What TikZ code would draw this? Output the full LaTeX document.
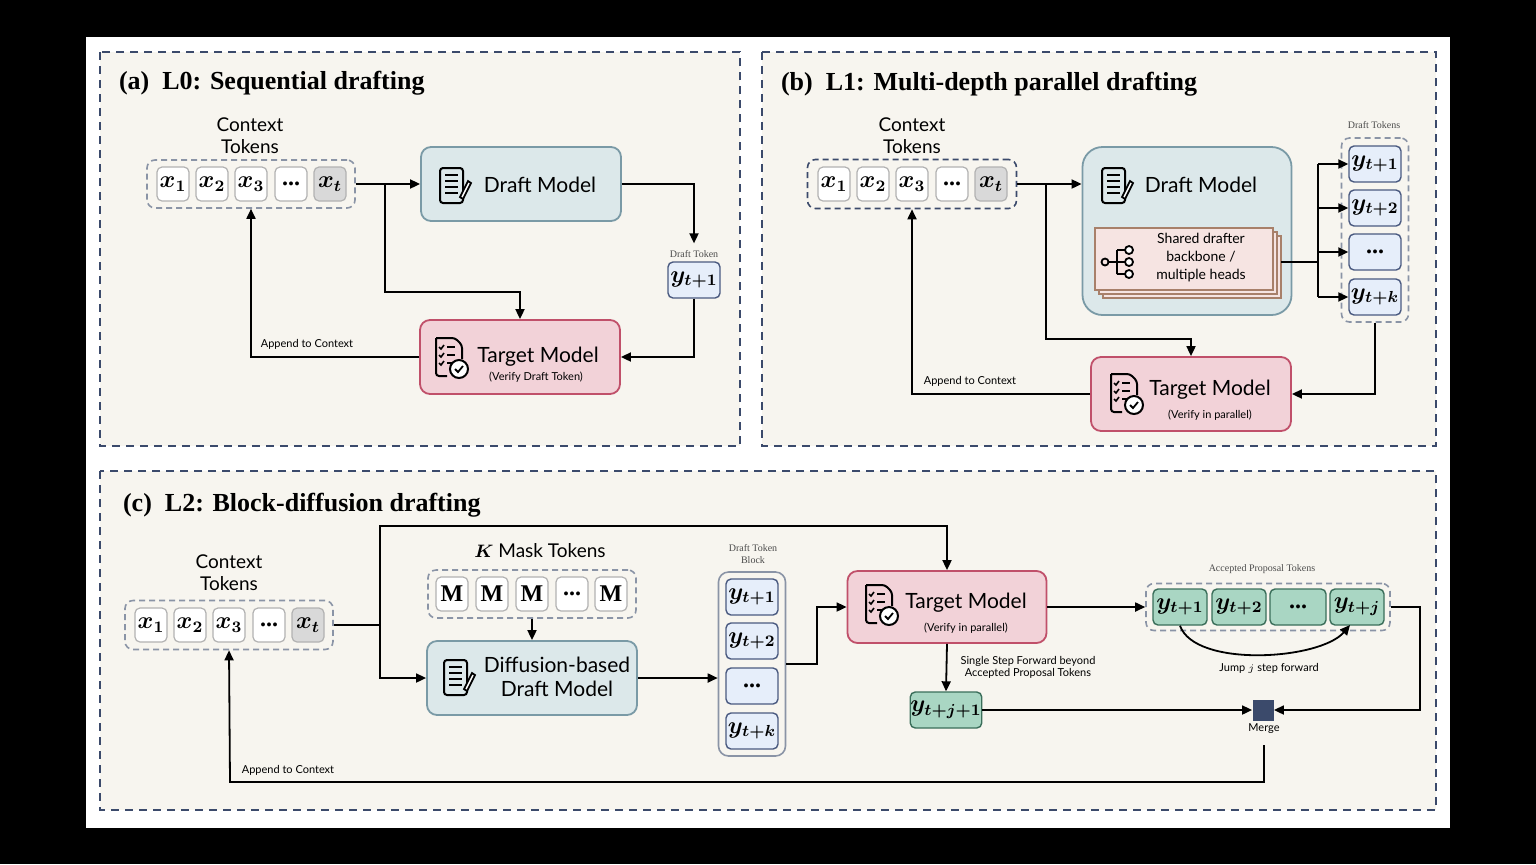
\documentclass[tikz,border=0pt]{standalone}
\usepackage{amsmath,bm}
\usepackage{fontspec}
\setmainfont{Liberation Serif}
\newfontfamily\hand{Lato}
\usetikzlibrary{arrows.meta,shapes.geometric}
\definecolor{bgp}{HTML}{F7F5EF}
\definecolor{dash}{HTML}{3B4A6B}
\definecolor{dfill}{HTML}{DCE8EA}
\definecolor{dline}{HTML}{7A9AA6}
\definecolor{tfill}{HTML}{F2D2D8}
\definecolor{tline}{HTML}{C0506A}
\definecolor{yfill}{HTML}{E6EEFA}
\definecolor{yline}{HTML}{4A5A80}
\definecolor{gfill}{HTML}{A9D6C3}
\definecolor{gline}{HTML}{3A6E5A}
\definecolor{sfill}{HTML}{F6E4E2}
\definecolor{sline}{HTML}{A8806A}
\definecolor{grp}{HTML}{8A94A6}
\tikzset{
  x=0.5pt,y=-0.5pt,
  panel/.style={draw=dash,fill=bgp,dashed,line width=0.8pt,dash pattern=on 4pt off 3pt},
  grpbox/.style={draw=grp,dashed,line width=0.8pt,rounded corners=4pt,dash pattern=on 3pt off 2pt},
  tok/.style={draw=gray!60,fill=white,rounded corners=2.5pt,minimum width=16pt,minimum height=17pt,inner sep=0pt,line width=0.6pt,font=\large},
  ytok/.style={draw=yline,fill=yfill,rounded corners=2.5pt,minimum width=26pt,minimum height=18pt,inner sep=0pt,line width=0.7pt,font=\large},
  gtok/.style={draw=gline,fill=gfill,rounded corners=2.5pt,minimum width=27pt,minimum height=18pt,inner sep=0pt,line width=0.7pt,font=\large},
  draftbox/.style={draw=dline,fill=dfill,rounded corners=5pt,line width=0.9pt},
  targetbox/.style={draw=tline,fill=tfill,rounded corners=5pt,line width=0.9pt},
  arr/.style={-{Triangle[length=5pt,width=4.5pt]},line width=0.9pt},
  ln/.style={line width=0.9pt},
  lab/.style={font=\hand\fontsize{9.5}{11}\selectfont,align=center},
  big/.style={font=\hand\fontsize{10.5}{12}\selectfont},
  small/.style={font=\hand\fontsize{5.5}{6}\selectfont,align=center},
  tiny/.style={font=\fontsize{5}{6}\selectfont,align=center,text=black!70},
  ttl/.style={font=\bfseries\fontsize{13}{15}\selectfont,anchor=west},
  docicon/.pic={\draw[line width=1pt,rounded corners=1.5pt] (-12,-17) rectangle (11,18);
     \foreach \yy in {-10,-4,2,8}{\draw[line width=0.9pt] (-7,\yy) -- (6,\yy);}
     \draw[line width=0.9pt,fill=white] (8,12) -- (16,-4) -- (19,-2) -- (11,14) -- cycle;},
  chkicon/.pic={\draw[line width=1pt,rounded corners=1.5pt] (-14,-19) -- (5,-19) -- (12,-12) -- (12,2) (-3,19) -- (-14,19) -- (-14,-19);
     \foreach \yy in {-10,-2,6}{\draw[line width=0.8pt] (-11,\yy) -- (-9,{\yy+2}) -- (-6,{\yy-2}); \draw[line width=0.8pt] (-3,\yy) -- (5,\yy);}
     \draw[line width=1pt,fill=white] (9,12) circle (9);
     \draw[line width=0.9pt] (5,12) -- (8,15) -- (13,9);},
  treeicon/.pic={\draw[line width=0.9pt] (-15,0) circle (3.5) (-11.5,0) -- (-3,0) (-3,-12) -- (-3,12) (-3,-12) -- (5,-12) (-3,0) -- (5,0) (-3,12) -- (5,12);
     \foreach \yy in {-12,0,12}{\draw[line width=0.9pt,fill=white] (9,\yy) circle (4);}}
}
\newcommand{\mtok}[2]{$\boldsymbol{#1}_{\boldsymbol{#2}}$}
\newcommand{\dts}{\textbf{...}}
\begin{document}
\begin{tikzpicture}
\useasboundingbox (0,0) rectangle (1536,864);
\fill[black] (0,0) rectangle (1536,864);
\fill[white] (86,37) rectangle (1450,828);
\draw[panel] (100,52) rectangle (740,446);
\draw[panel] (762,52) rectangle (1436,446);
\draw[panel] (100,471) rectangle (1436,810);

% ---------- (a)
\node[ttl] at (112,83) {(a)\ \ L0: Sequential drafting};
\node[lab] at (250,136) {Context\\Tokens};
\node[grpbox,minimum width=104pt,minimum height=24pt] (ga) at (251,184) {};
\node[tok] (a1) at (173,184) {\mtok{x}{1}};
\node[tok] (a2) at (212,184) {\mtok{x}{2}};
\node[tok] (a3) at (251,184) {\mtok{x}{3}};
\node[tok] (a4) at (291,184) {\dts};
\node[tok,fill=gray!30] (a5) at (330,184) {\mtok{x}{t}};
\node[draftbox,minimum width=100pt,minimum height=37pt] (da) at (521,184) {};
\pic at (452,185) {docicon};
\node[big] at (540,185) {Draft Model};
\node[tiny] (dtl) at (694,254) {Draft Token};
\node[ytok] (ya) at (694,280) {\mtok{y}{t+1}};
\node[targetbox,minimum width=100pt,minimum height=37pt] (ta) at (520,357) {};
\pic at (450,357) {chkicon};
\node[big] at (538,357) {Target Model};
\node[small] at (536,377) {(Verify Draft Token)};
\draw[arr] (ga.east) -- (da.west);
\draw[arr] (385,184) -- (385,292) -- (520,292) -- (ta.north);
\draw[arr] (da.east) -- (694,184) -- (dtl.north);
\draw[arr] (ya.south) -- (694,357) -- (ta.east);
\draw[arr] (ta.west) -- (251,357) -- (ga.south);
\node[small] at (307,344) {Append to Context};

% ---------- (b)
\node[ttl] at (774,84) {(b)\ \ L1: Multi-depth parallel drafting};
\node[lab] at (912,136) {Context\\Tokens};
\node[grpbox,draw=dash,minimum width=104.5pt,minimum height=24.5pt] (gb) at (912,184) {};
\node[tok] at (834,184) {\mtok{x}{1}};
\node[tok] at (873,184) {\mtok{x}{2}};
\node[tok] at (912,184) {\mtok{x}{3}};
\node[tok] at (952,184) {\dts};
\node[tok,fill=gray!30] at (991,184) {\mtok{x}{t}};
\node[draftbox,rounded corners=10pt,minimum width=104.5pt,minimum height=84pt] (db) at (1187,231) {};
\pic at (1114,185) {docicon};
\node[big] at (1201,185) {Draft Model};
\foreach \o in {8,4,0}{\fill[sfill,draw=sline,line width=0.7pt] (1095+\o,228+\o) rectangle (1273+\o,290+\o);}
\coordinate (sd) at (1281,262);
\pic at (1120,262) {treeicon};
\node[font=\hand\fontsize{7}{9}\selectfont,align=center] at (1201,258) {Shared drafter\\backbone /\\multiple heads};
\node[tiny] at (1374,125) {Draft Tokens};
\node[grpbox,minimum width=33.5pt,minimum height=92pt] (gdt) at (1375,230) {};
\node[ytok] (b1) at (1375,164) {\mtok{y}{t+1}};
\node[ytok] (b2) at (1375,208) {\mtok{y}{t+2}};
\node[ytok] (b3) at (1375,252) {\dts};
\node[ytok] (b4) at (1375,297) {\mtok{y}{t+k}};
\draw[ln] (sd) -- (1318,262);
\draw[ln] (1318,164) -- (1318,297);
\foreach \b in {b1,b2,b3,b4}{\draw[arr] (1318,0 |- \b.west) -- (\b.west);}
\node[targetbox,minimum width=100pt,minimum height=37pt] (tb) at (1191,394) {};
\pic at (1125,393) {chkicon};
\node[big] at (1210,390) {Target Model};
\node[small] at (1210,415) {(Verify in parallel)};
\draw[arr] (gb.east) -- (db.west |- gb.east);
\draw[arr] (1046,184) -- (1046,339) -- (1191,339) -- (tb.north);
\draw[arr] (gdt.south) -- (1375,394) -- (tb.east);
\draw[arr] (tb.west) -- (912,394) -- (gb.south);
\node[small] at (970,381) {Append to Context};

% ---------- (c)
\node[ttl] at (116,505) {(c)\ \ L2: Block-diffusion drafting};
\node[lab] at (229,573) {Context\\Tokens};
\node[grpbox,minimum width=104pt,minimum height=24.5pt] (gc) at (229,625) {};
\node[tok] at (151,625) {\mtok{x}{1}};
\node[tok] at (190,625) {\mtok{x}{2}};
\node[tok] at (229,625) {\mtok{x}{3}};
\node[tok] at (269,625) {\dts};
\node[tok,fill=gray!30] at (308,625) {\mtok{x}{t}};
\node[lab] at (540,551) {$\boldsymbol{K}$ Mask Tokens};
\node[grpbox,minimum width=104pt,minimum height=24pt] (gm) at (532,594) {};
\foreach \xx/\t in {452/M,492/M,532/M,572/\dts,611/M}{\node[tok,font=\bfseries\large] at (\xx,594) {\t};}
\node[draftbox,minimum width=105pt,minimum height=37pt] (dc) at (532,678) {};
\pic at (456,677) {docicon};
\node[big,align=center] at (557,677) {Diffusion-based\\Draft Model};
\node[tiny] at (753,554) {Draft Token\\Block};
\node[draw=grp,line width=0.8pt,rounded corners=5pt,minimum width=33.5pt,minimum height=92pt] (blk) at (752,664) {};
\node[ytok] at (752,597) {\mtok{y}{t+1}};
\node[ytok] at (752,641) {\mtok{y}{t+2}};
\node[ytok] at (752,686) {\dts};
\node[ytok] at (752,731) {\mtok{y}{t+k}};
\node[targetbox,minimum width=99.5pt,minimum height=36pt] (tc) at (947,607) {};
\pic at (880,604) {chkicon};
\node[big] at (966,603) {Target Model};
\node[small] at (966,628) {(Verify in parallel)};
\node[tiny] at (1262,569) {Accepted Proposal Tokens};
\node[grpbox,minimum width=122pt,minimum height=23.5pt] (gacc) at (1268,607) {};
\node[gtok] (c1) at (1180,607) {\mtok{y}{t+1}};
\node[gtok] (c2) at (1239,607) {\mtok{y}{t+2}};
\node[gtok,minimum width=28pt] (c3) at (1298,607) {\dts};
\node[gtok] (c4) at (1357,607) {\mtok{y}{t+j}};
\draw[arr] (c1.south) .. controls (1195,668) and (1320,660) .. (1350,625);
\node[small] at (1269,668) {Jump $j$ step forward};
\node[gtok,minimum width=34pt] (yj) at (946,710) {\mtok{y}{t+j+1}};
\node[small] at (1028,667) {Single Step Forward beyond\\Accepted Proposal Tokens};
\node[fill=dash,minimum size=10.5pt,inner sep=0pt] (mg) at (1263,710) {};
\node[small] at (1264,729) {Merge};
\coordinate (mgo) at (1264,745);
\draw[ln] (gc.east) -- (380,625);
\draw[arr] (380,625) -- (380,526) -- (947,526) -- (tc.north);
\draw[arr] (380,625) -- (380,678) -- (dc.west);
\draw[arr] (gm.south) -- (dc.north);
\draw[arr] (dc.east) -- (blk.west |- dc.east);
\draw[arr] (blk.east) -- (817,664) -- (817,607) -- (tc.west);
\draw[arr] (tc.east) -- (gacc.west);
\draw[arr] (tc.south) -- (yj.north);
\draw[arr] (yj.east) -- (mg.west);
\draw[arr] (gacc.east) -- (1420,607) -- (1420,710) -- (mg.east);
\draw[arr] (mgo) -- (1264,782) -- (230,782) -- (gc.south);
\node[small] at (288,770) {Append to Context};
\end{tikzpicture}
\end{document}
